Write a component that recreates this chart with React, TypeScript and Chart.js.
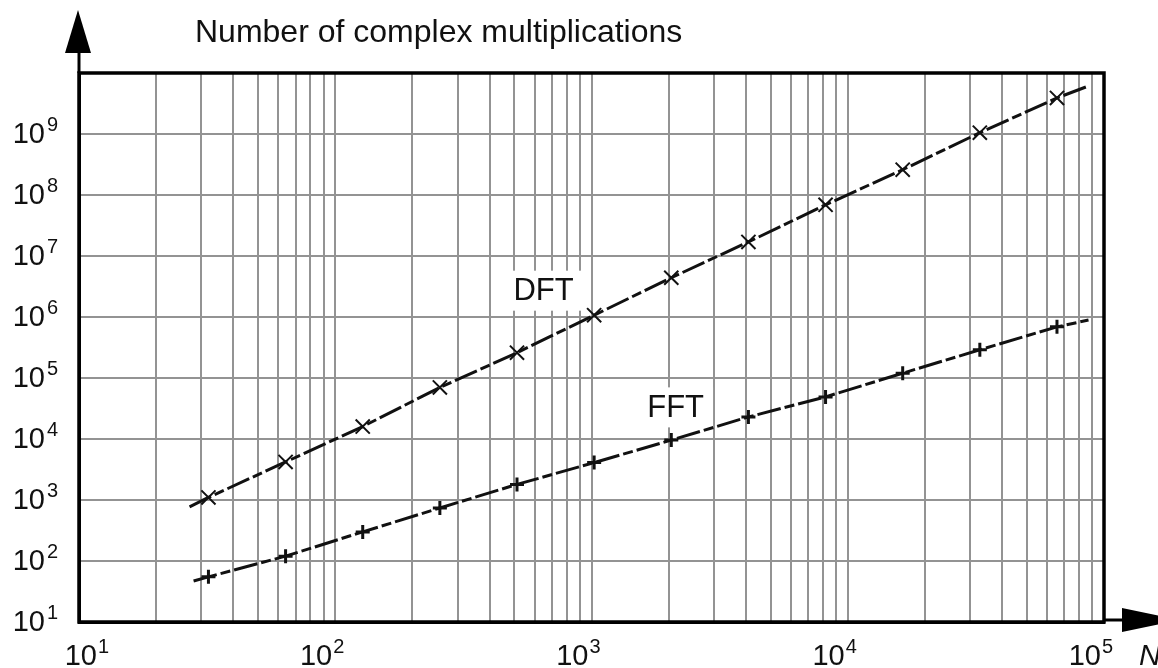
import React, { useEffect, useRef } from "react";
import { Chart, registerables } from "chart.js";

Chart.register(...registerables);

// N values and complex multiplication counts
const DFT_N = [27, 32, 64, 128, 256, 512, 1024, 2048, 4096, 8192, 16384, 32768, 65536, 85000];
const DFT_VALUES = [770, 1100, 4200, 16000, 70000, 260000, 1070000, 4400000, 17000000, 69000000, 260000000, 1050000000, 3900000000, 5900000000];
const FFT_N = [28, 32, 64, 128, 256, 512, 1024, 2048, 4096, 8192, 16384, 32768, 65536, 87000];
const FFT_VALUES = [47, 55, 120, 300, 740, 1800, 4100, 9600, 23000, 49000, 120000, 290000, 690000, 890000];

const X_DECADES = [1, 2, 3, 4, 5];
const Y_DECADES = [1, 2, 3, 4, 5, 6, 7, 8, 9, 10];
const X_LABEL_EXPONENTS = [1, 2, 3, 4, 5];
const Y_LABEL_EXPONENTS = [1, 2, 3, 4, 5, 6, 7, 8, 9];

const TITLE = "Number of complex multiplications";
const X_AXIS_NAME = "N";
const SERIES_LABELS = [
  { text: "DFT", n: 650, v: 2.7e6 },
  { text: "FFT", n: 2130, v: 33000 },
];

const FONT = "'Liberation Sans', Arial, Helvetica, sans-serif";

function buildXTicks() {
  const t: number[] = [];
  for (const e of X_DECADES) {
    const base = Math.pow(10, e);
    if (e === X_DECADES[X_DECADES.length - 1]) {
      t.push(base);
    } else {
      for (let m = 1; m <= 9; m++) t.push(m * base);
    }
  }
  return t;
}
const X_TICKS = buildXTicks();
const Y_TICKS = Y_DECADES.map((e) => Math.pow(10, e));

const decorPlugin = {
  id: "decor",
  beforeDatasetsDraw(chart: any) {
    const ctx = chart.ctx;
    const xs = chart.scales.x;
    const ys = chart.scales.y;
    ctx.save();
    ctx.font = `31px ${FONT}`;
    ctx.textAlign = "center";
    ctx.textBaseline = "middle";
    for (const l of SERIES_LABELS) {
      const px = xs.getPixelForValue(l.n);
      const py = ys.getPixelForValue(l.v);
      const w = ctx.measureText(l.text).width + 18;
      ctx.fillStyle = "#ffffff";
      ctx.fillRect(px - w / 2, py - 20, w, 40);
      ctx.fillStyle = "#111";
      ctx.fillText(l.text, px, py + 1);
    }
    ctx.restore();
  },
  afterDraw(chart: any) {
    const ctx = chart.ctx;
    const a = chart.chartArea;
    const xs = chart.scales.x;
    const ys = chart.scales.y;
    ctx.save();
    // frame
    ctx.strokeStyle = "#000";
    ctx.lineWidth = 3.5;
    ctx.strokeRect(a.left, a.top, a.right - a.left, a.bottom - a.top);
    // y-axis arrow
    ctx.lineWidth = 3;
    ctx.beginPath();
    ctx.moveTo(a.left, a.top);
    ctx.lineTo(a.left, 50);
    ctx.stroke();
    ctx.fillStyle = "#000";
    ctx.beginPath();
    ctx.moveTo(a.left - 1, 10);
    ctx.lineTo(a.left - 14, 53);
    ctx.lineTo(a.left + 12, 53);
    ctx.closePath();
    ctx.fill();
    // x-axis arrow
    ctx.beginPath();
    ctx.moveTo(a.right, a.bottom - 2);
    ctx.lineTo(1125, a.bottom - 2);
    ctx.stroke();
    ctx.beginPath();
    ctx.moveTo(1122, a.bottom - 14);
    ctx.lineTo(1180, a.bottom - 2);
    ctx.lineTo(1122, a.bottom + 10);
    ctx.closePath();
    ctx.fill();

    // title
    ctx.fillStyle = "#111";
    ctx.textAlign = "left";
    ctx.textBaseline = "alphabetic";
    ctx.font = `32px ${FONT}`;
    ctx.fillText(TITLE, 195, 42);

    // axis name
    ctx.font = `italic 30px ${FONT}`;
    ctx.fillText(X_AXIS_NAME, 1139, 665);

    // y tick labels
    for (const e of Y_LABEL_EXPONENTS) {
      const py = ys.getPixelForValue(Math.pow(10, e));
      ctx.font = `29px ${FONT}`;
      ctx.textAlign = "right";
      ctx.fillText("10", 45, py + 9);
      ctx.font = `20px ${FONT}`;
      ctx.textAlign = "left";
      ctx.fillText(String(e), 47, py - 3);
    }
    // x tick labels
    for (const e of X_LABEL_EXPONENTS) {
      const px = xs.getPixelForValue(Math.pow(10, e));
      const right = Math.max(px - 3, 97);
      ctx.font = `29px ${FONT}`;
      ctx.textAlign = "right";
      ctx.fillText("10", right, 665);
      ctx.font = `20px ${FONT}`;
      ctx.textAlign = "left";
      ctx.fillText(String(e), right + 1, 653);
    }
    ctx.restore();
  },
};

function pts(ns: number[], vs: number[]) {
  return ns.map((n, i) => ({ x: n, y: vs[i] }));
}
function radii(len: number, r: number) {
  return Array.from({ length: len }, (_, i) => (i === 0 || i === len - 1 ? 0 : r));
}

export default function App() {
  const ref = useRef<HTMLCanvasElement | null>(null);
  useEffect(() => {
    if (!ref.current) return;
    const chart = new Chart(ref.current, {
      type: "line",
      data: {
        datasets: [
          {
            label: "DFT",
            data: pts(DFT_N, DFT_VALUES),
            borderColor: "#111",
            borderWidth: 3,
            borderDash: [24, 4, 10, 4],
            pointStyle: "crossRot",
            pointRadius: radii(DFT_N.length, 10),
            pointBorderColor: "#111",
            pointBorderWidth: 2,
            fill: false,
            tension: 0,
          },
          {
            label: "FFT",
            data: pts(FFT_N, FFT_VALUES),
            borderColor: "#111",
            borderWidth: 3,
            borderDash: [24, 4, 10, 4],
            pointStyle: "cross",
            pointRadius: radii(FFT_N.length, 7),
            pointBorderColor: "#111",
            pointBorderWidth: 3,
            fill: false,
            tension: 0,
          },
        ],
      },
      options: {
        animation: false,
        responsive: false,
        maintainAspectRatio: false,
        layout: { padding: { left: 79, right: 54, top: 73, bottom: 46 } },
        plugins: {
          legend: { display: false },
          tooltip: { enabled: false },
          title: { display: false },
        },
        scales: {
          x: {
            type: "logarithmic",
            min: 10,
            max: 100000,
            afterBuildTicks: (s: any) => {
              s.ticks = X_TICKS.map((v) => ({ value: v }));
            },
            ticks: { display: false },
            grid: { color: "#939393", lineWidth: 2, drawTicks: false },
            border: { display: true, color: "#000", width: 3 },
          },
          y: {
            type: "logarithmic",
            min: 10,
            max: 1e10,
            afterBuildTicks: (s: any) => {
              s.ticks = Y_TICKS.map((v) => ({ value: v }));
            },
            ticks: { display: false },
            grid: { color: "#939393", lineWidth: 2, drawTicks: false },
            border: { display: true, color: "#000", width: 3 },
          },
        },
      },
      plugins: [decorPlugin],
    });
    return () => chart.destroy();
  }, []);
  return (
    <div style={{ position: "fixed", left: 0, top: 0, width: 1158, height: 668, background: "#fff" }}>
      <canvas ref={ref} width={1158} height={668} style={{ width: 1158, height: 668, display: "block" }} />
    </div>
  );
}
